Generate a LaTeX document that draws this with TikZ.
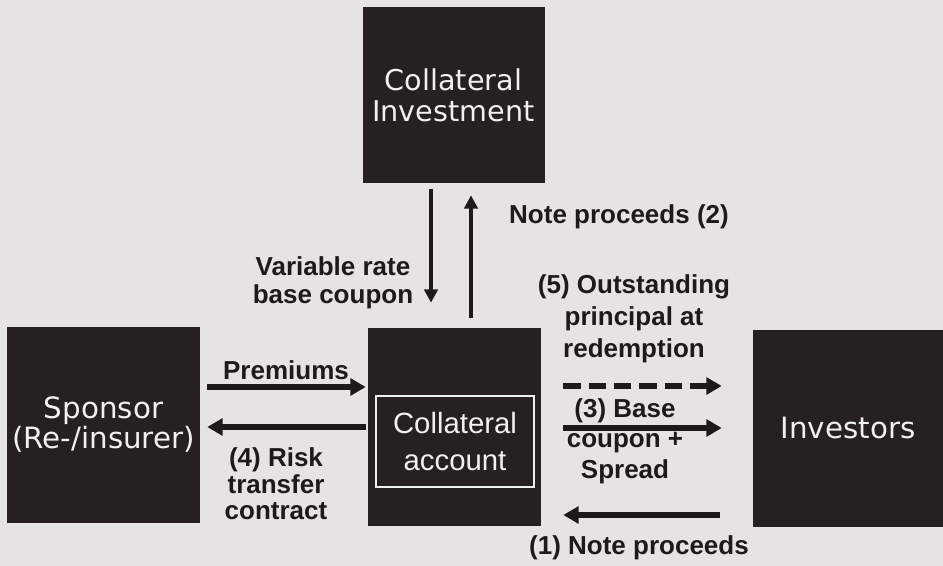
\documentclass[tikz,border=0pt]{standalone}
\usepackage{fontspec}
\setmainfont{Liberation Sans}
\newfontfamily\boxfont{DejaVu Sans}
\usetikzlibrary{arrows.meta}
\definecolor{bg}{RGB}{229,228,226}
\definecolor{boxc}{RGB}{38,32,31}
\definecolor{ink}{RGB}{30,26,26}
\definecolor{wtext}{RGB}{240,240,238}
\tikzset{
  dbox/.style={fill=boxc, draw=none, inner sep=0pt, text=wtext, align=center,
    font=\boxfont\fontsize{22}{22.5}\selectfont},
  arr/.style={draw=ink, line width=3.9pt, -{Triangle[length=11.5pt,width=12.5pt]}},
  varr/.style={draw=ink, line width=3.4pt, -{Triangle[length=10pt,width=10pt]}},
  lbl/.style={text=ink, align=center, inner sep=0pt, font=\bfseries\fontsize{19.5}{21}\selectfont}
}
\begin{document}
\begin{tikzpicture}[x=0.75pt,y=-0.75pt]
\fill[bg] (0,0) rectangle (943,566);
\useasboundingbox (0,0) rectangle (943,566);
% boxes
\node[dbox, minimum width=136.5pt, minimum height=132pt, font=\boxfont\fontsize{21.5}{23.5}\selectfont] (inv) at (453.5,95) {Collateral\\Investment};
\node[dbox, minimum width=144.75pt, minimum height=147pt] (sponsor) at (103.5,425) {Sponsor\\(Re-/insurer)};
\node[dbox, minimum width=129.75pt, minimum height=148.5pt] (acct) at (454.5,427) {};
\node[draw=wtext, line width=1.4pt, inner sep=0pt, minimum width=118.5pt, minimum height=68.25pt, text=wtext, align=center, font=\fontsize{22}{27.75}\selectfont] (acctin) at (455,441.5) {Collateral\\account};
\node[dbox, minimum width=142.5pt, minimum height=147.75pt] (investors) at (848,428.5) {Investors};
% vertical arrows
\draw[varr, shorten <=4.5pt, shorten >=18.75pt] (inv.south -| 431,0) -- (acct.north -| 431,0);
\draw[varr, shorten <=7.5pt, shorten >=9pt] (acct.north -| 471,0) -- (inv.south -| 471,0);
% left arrows
\draw[arr, shorten <=5.25pt, shorten >=1.5pt] (sponsor.east |- 0,387) -- (acct.west |- 0,387);
\draw[arr, shorten <=1.5pt, shorten >=5.25pt] (acct.west |- 0,427) -- (sponsor.east |- 0,427);
% right arrows
\draw[arr, dash pattern=on 13pt off 6pt, shorten <=16.5pt, shorten >=23.25pt] (acct.east |- 0,386) -- (investors.west |- 0,386);
\draw[arr, shorten <=16.5pt, shorten >=23.25pt] (acct.east |- 0,428) -- (investors.west |- 0,428);
\draw[arr, shorten <=24.75pt, shorten >=16.5pt] (investors.west |- 0,515) -- (acct.east |- 0,515);
% labels
\node[lbl] (n2) at (619,217) {Note proceeds (2)};
\node[lbl] (vr) at (333,283) {Variable rate\\base coupon};
\node[lbl, font=\bfseries\fontsize{19.5}{24}\selectfont] (p5) at (634,319) {(5) Outstanding\\principal at\\redemption};
\node[lbl, font=\bfseries\fontsize{19.5}{23}\selectfont] (b3) at (625,441) {(3) Base\\coupon +\\Spread};
\node[lbl] (n1) at (639,548) {(1) Note proceeds};
\node[lbl] (prem) at (286,370) {Premiums};
\node[lbl, font=\bfseries\fontsize{19.5}{20}\selectfont] (risk) at (276,484) {(4) Risk\\transfer\\contract};
\end{tikzpicture}
\end{document}
